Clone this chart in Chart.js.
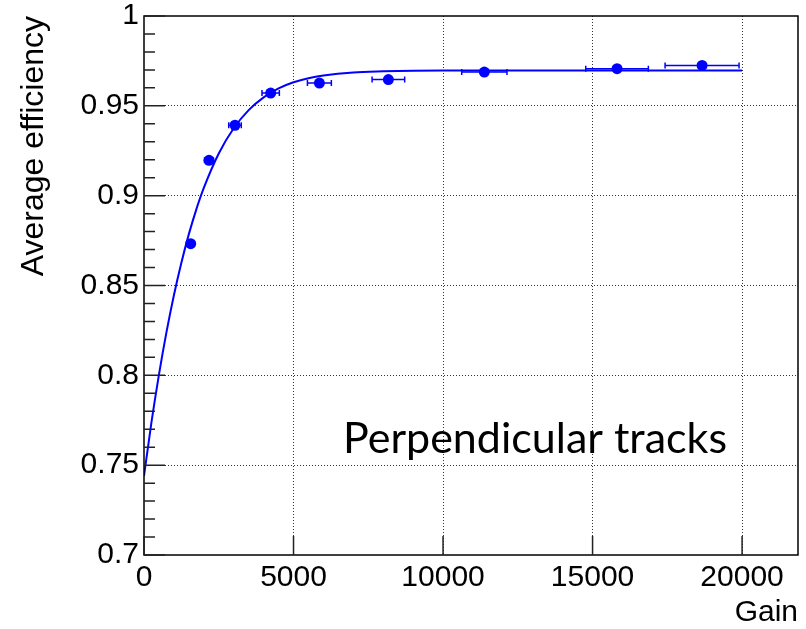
<!DOCTYPE html>
<html><head><meta charset="utf-8">
<script src="https://cdn.jsdelivr.net/npm/chart.js@4.4.0/dist/chart.umd.min.js"></script>
<style>html,body{margin:0;padding:0;background:#fff}#wrap{width:806px;height:629px}</style>
</head><body><div id="wrap"><canvas id="c" width="806" height="629"></canvas></div>
<script>
// Measured points
const gain = [1562, 2174, 3043, 4236, 5865, 8172, 11381, 15819, 18662];
const efficiency = [0.8733, 0.9197, 0.9392, 0.9571, 0.9627, 0.9646, 0.9688, 0.9707, 0.9725];
const gainErr = [120, 150, 210, 290, 400, 545, 757, 1047, 1237];
// Fit curve
const fitGain = [0, 250, 500, 750, 1000, 1250, 1500, 1750, 2000, 2500, 3000, 3500, 4000, 4500, 5000, 5500, 6000, 7000, 8000, 9000, 10000, 12500, 15000, 17500, 20000];
const fitEff = [0.744, 0.7739, 0.8004, 0.8239, 0.8446, 0.8627, 0.8786, 0.8924, 0.9043, 0.9235, 0.9375, 0.9476, 0.9547, 0.9597, 0.9631, 0.9654, 0.9669, 0.9686, 0.9692, 0.9695, 0.9696, 0.9696, 0.9696, 0.9696, 0.9696];
// Axes
const xTicks = [0, 5000, 10000, 15000, 20000];
const yTicks = [0.7, 0.75, 0.8, 0.85, 0.9, 0.95, 1];
const yMinorTicks = [0.71,0.72,0.73,0.74,0.76,0.77,0.78,0.79,0.81,0.82,0.83,0.84,0.86,0.87,0.88,0.89,0.91,0.92,0.93,0.94,0.96,0.97,0.98,0.99];
const xTitle = 'Gain';
const yTitle = 'Average efficiency';
const note = 'Perpendicular tracks';

const BLUE = '#0000ff';
const FONT = 'Liberation Sans, Arial, Helvetica, sans-serif';

const framePlugin = {
  id: 'frame',
  beforeDatasetDraw(chart, args) {
    if (args.index !== 1) return;
    const ctx = chart.ctx, xs = chart.scales.x, ys = chart.scales.y;
    ctx.save();
    ctx.strokeStyle = BLUE; ctx.lineWidth = 1.5;
    gain.forEach((g, i) => {
      const x1 = xs.getPixelForValue(g - gainErr[i]);
      const x2 = xs.getPixelForValue(g + gainErr[i]);
      const y = ys.getPixelForValue(efficiency[i]);
      ctx.beginPath();
      ctx.moveTo(x1, y); ctx.lineTo(x2, y);
      ctx.moveTo(x1, y - 3); ctx.lineTo(x1, y + 3);
      ctx.moveTo(x2, y - 3); ctx.lineTo(x2, y + 3);
      ctx.stroke();
    });
    ctx.restore();
  },
  afterDraw(chart) {
    const ctx = chart.ctx, a = chart.chartArea, xs = chart.scales.x, ys = chart.scales.y;
    ctx.save();
    ctx.strokeStyle = '#000'; ctx.lineWidth = 1.5;
    ctx.strokeRect(a.left, a.top, a.right - a.left, a.bottom - a.top);
    ctx.strokeStyle = '#222'; ctx.lineWidth = 1.5;
    ctx.beginPath();
    yTicks.forEach(v => { const y = ys.getPixelForValue(v); ctx.moveTo(a.left, y); ctx.lineTo(a.left + 21, y); });
    yMinorTicks.forEach(v => { const y = ys.getPixelForValue(v); ctx.moveTo(a.left, y); ctx.lineTo(a.left + 11, y); });
    xTicks.forEach(v => { const x = xs.getPixelForValue(v); ctx.moveTo(x, a.bottom); ctx.lineTo(x, a.bottom - 19); });
    ctx.stroke();
    ctx.fillStyle = '#000';
    ctx.font = '43px Lato, "Open Sans", sans-serif';
    ctx.textBaseline = 'alphabetic';
    ctx.textAlign = 'left';
    ctx.fillText(note, a.left + 199, a.bottom - 102);
    ctx.restore();
  }
};

new Chart(document.getElementById('c'), {
  type: 'scatter',
  data: {
    datasets: [
      { data: fitGain.map((x, i) => ({ x, y: fitEff[i] })), showLine: true, borderColor: BLUE, borderWidth: 2,
        pointRadius: 0, cubicInterpolationMode: 'monotone', fill: false },
      { data: gain.map((x, i) => ({ x, y: efficiency[i] })), showLine: false, pointRadius: 5.5,
        pointBackgroundColor: BLUE, pointBorderColor: BLUE, pointBorderWidth: 0 }
    ]
  },
  options: {
    responsive: false, animation: false, devicePixelRatio: 1,
    layout: { padding: { top: 16, right: 8, left: 0, bottom: 0 } },
    plugins: { legend: { display: false }, tooltip: { enabled: false } },
    scales: {
      x: {
        type: 'linear', min: 0, max: 21870,
        afterBuildTicks: s => { s.ticks = xTicks.map(v => ({ value: v })); },
        afterFit: s => { s.height = 74; },
        ticks: { callback: v => String(v), color: '#000', font: { family: FONT, size: 30, lineHeight: 1 }, padding: 8, maxRotation: 0, autoSkip: false },
        grid: { drawTicks: false, lineWidth: 1, color: c => (c.tick && c.tick.value === 0) ? 'rgba(0,0,0,0)' : '#333' },
        border: { display: false, dash: [1, 2] },
        title: { display: true, text: xTitle, align: 'end', color: '#000', font: { family: FONT, size: 30, lineHeight: 1.1 }, padding: { top: 0, bottom: 0 } }
      },
      y: {
        type: 'linear', min: 0.7, max: 1,
        afterBuildTicks: s => { s.ticks = yTicks.map(v => ({ value: v })); },
        afterFit: s => { s.width = 144; s.paddingTop = 0; s.paddingBottom = 0; },
        ticks: { callback: v => String(v), color: '#000', font: { family: FONT, size: 30, lineHeight: 1 }, padding: 5, autoSkip: false },
        grid: { drawTicks: false, lineWidth: 1, color: c => (c.tick && (c.tick.value === 0.7 || c.tick.value === 1)) ? 'rgba(0,0,0,0)' : '#333' },
        border: { display: false, dash: [1, 2] },
        title: { display: true, text: yTitle, align: 'end', color: '#000', font: { family: FONT, size: 32 }, padding: { top: 15, bottom: 0 } }
      }
    }
  },
  plugins: [framePlugin]
});
</script>
</body></html>
